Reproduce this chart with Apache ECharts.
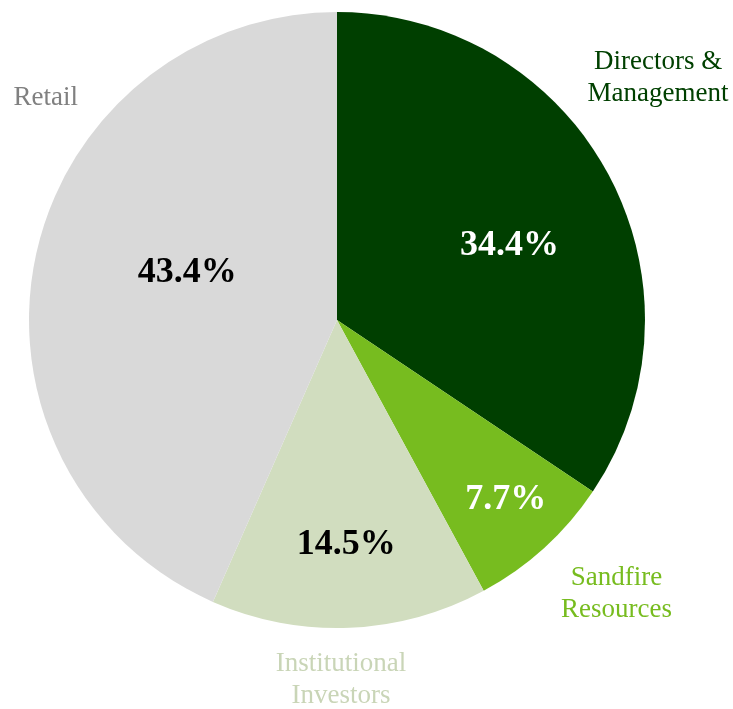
<!DOCTYPE html>
<html>
<head>
<meta charset="utf-8">
<script src="https://cdn.jsdelivr.net/npm/echarts@6/dist/echarts.min.js"></script>
<style>
  html, body { margin: 0; padding: 0; background: #ffffff; }
  #chart { width: 733px; height: 709px; }
</style>
</head>
<body>
<div id="chart"></div>
<script>
// Shareholder categories and their share of issued capital (%)
const categories = ['Directors &\nManagement', 'Sandfire\nResources', 'Institutional\nInvestors', 'Retail'];
const shares = [34.4, 7.7, 14.5, 43.4];

// Slice fills and outer label colours
const sliceColors = ['#003f00', '#77bc1f', '#d1ddbf', '#d9d9d9'];
const nameColors = ['#004000', '#77bc1f', '#c9d5b7', '#808080'];
const valueColors = ['#ffffff', '#ffffff', '#000000', '#000000'];

// Pie geometry (px)
const CX = 337, CY = 320, R = 308;

// Label placement: [radius fraction, angle shift in degrees from the slice middle]
const innerPlace = [[0.61, 4.7], [0.80, -0.9], [0.73, 0.0], [0.51, 5.7]];
const outerPlace = [[1.305, -8.9], [1.27, -3.3], [1.17, 1.7], [1.19, 25.5]];

const total = shares.reduce((a, b) => a + b, 0);
function midAngle(i) {
  let before = 0;
  for (let k = 0; k < i; k++) before += shares[k];
  return (before + shares[i] / 2) / total * 360;
}
function placeAt(i, place) {
  const a = (midAngle(i) + place[i][1]) * Math.PI / 180;
  const d = place[i][0] * R;
  return { x: CX + d * Math.sin(a), y: CY - d * Math.cos(a) };
}

const data = categories.map((name, i) => ({
  name: name,
  value: shares[i],
  itemStyle: { color: sliceColors[i] },
  label: { color: valueColors[i] }
}));
const nameData = categories.map((name, i) => ({
  name: name,
  value: shares[i],
  label: { color: nameColors[i] }
}));

const chart = echarts.init(document.getElementById('chart'), null, { renderer: 'canvas' });
chart.setOption({
  animation: false,
  backgroundColor: '#ffffff',
  series: [
    {
      type: 'pie',
      center: [CX, CY],
      radius: [0, R],
      startAngle: 90,
      clockwise: true,
      silent: true,
      data: data,
      itemStyle: { borderWidth: 0 },
      label: {
        show: true,
        position: 'inside',
        formatter: p => p.value.toFixed(1) + '%',
        fontFamily: 'Liberation Serif',
        fontWeight: 'bold',
        fontSize: 36,
        align: 'center',
        verticalAlign: 'middle'
      },
      labelLine: { show: false },
      labelLayout: function (p) {
        const pt = placeAt(p.dataIndex, innerPlace);
        return { x: pt.x, y: pt.y, align: 'center', verticalAlign: 'middle' };
      }
    },
    {
      type: 'pie',
      center: [CX, CY],
      radius: [0, R],
      startAngle: 90,
      clockwise: true,
      silent: true,
      z: 3,
      data: nameData,
      itemStyle: { color: 'rgba(0,0,0,0)' },
      label: {
        show: true,
        position: 'outside',
        formatter: '{b}',
        fontFamily: 'Liberation Serif',
        fontSize: 27,
        lineHeight: 32,
        align: 'center',
        verticalAlign: 'middle',
        overflow: 'none',
        width: 200,
        edgeDistance: 0
      },
      labelLine: { show: false },
      labelLayout: function (p) {
        const pt = placeAt(p.dataIndex, outerPlace);
        return { x: pt.x, y: pt.y, align: 'center', verticalAlign: 'middle', width: 200, hideOverlap: false };
      }
    }
  ]
});
</script>
</body>
</html>
